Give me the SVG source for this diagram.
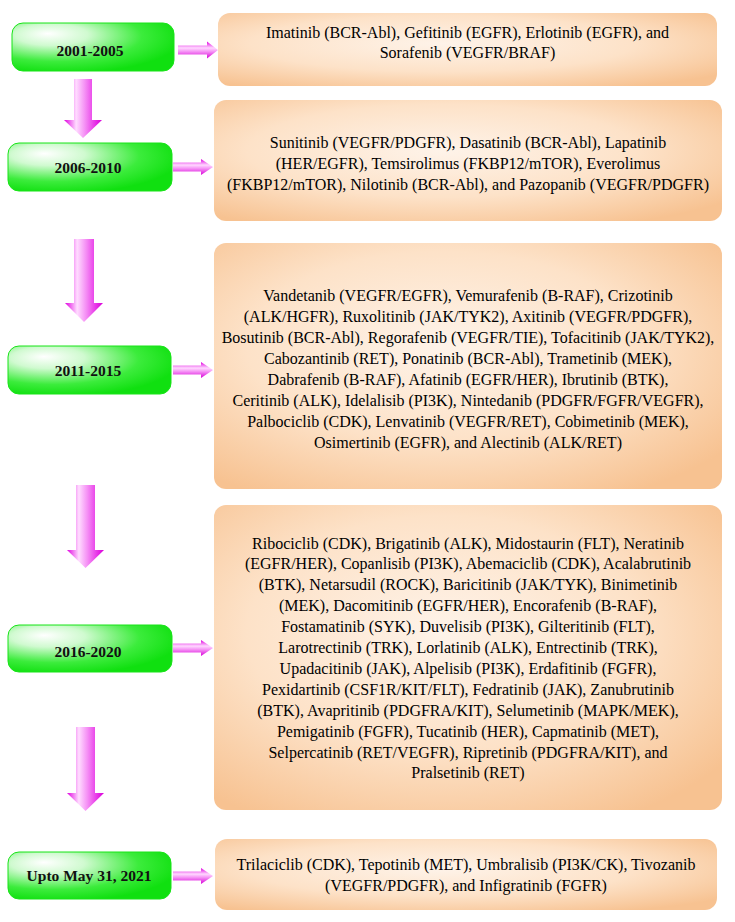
<svg xmlns="http://www.w3.org/2000/svg" width="735" height="922" viewBox="0 0 735 922">
<defs>
<radialGradient id="gGreen" cx="0.3" cy="0.3" r="0.75" fx="0.22" fy="0.22">
<stop offset="0" stop-color="#ffffff"/>
<stop offset="0.3" stop-color="#d0fad0"/>
<stop offset="0.7" stop-color="#3cec3c"/>
<stop offset="1" stop-color="#10e010"/>
</radialGradient>
<radialGradient id="gOrange" cx="0.45" cy="0.42" r="0.7">
<stop offset="0" stop-color="#fef3e9"/>
<stop offset="0.55" stop-color="#fde2c8"/>
<stop offset="1" stop-color="#f7c291"/>
</radialGradient>
<linearGradient id="gArrowH" x1="0" y1="0" x2="0" y2="1">
<stop offset="0" stop-color="#e000e0"/>
<stop offset="0.38" stop-color="#ffd8ff"/>
<stop offset="0.6" stop-color="#f590f5"/>
<stop offset="1" stop-color="#d800d8"/>
</linearGradient>
<linearGradient id="gArrowV" x1="0" y1="0" x2="1" y2="0">
<stop offset="0" stop-color="#e000e0"/>
<stop offset="0.32" stop-color="#ffdcff"/>
<stop offset="0.55" stop-color="#f590f5"/>
<stop offset="0.85" stop-color="#e528e5"/>
<stop offset="1" stop-color="#d800d8"/>
</linearGradient>
<style>
.green{fill:url(#gGreen);stroke:#18e418;stroke-width:1}
.orange{fill:url(#gOrange)}
.lbl{font-family:"Liberation Serif","DejaVu Serif",serif;font-weight:bold;font-size:15.5px;fill:#111;text-anchor:middle}
.txt{font-family:"Liberation Serif","DejaVu Serif",serif;font-size:16px;fill:#000;text-anchor:middle}
.ah{fill:url(#gArrowH)}
.av{fill:url(#gArrowV)}
</style>
</defs>

<g id="connectors">
<path class="av" d="M74,79 H92 V120 H102 L83,138 L64,120 H74 Z"/>
<path class="av" d="M74,239 H94 V303 H103 L84,322 L65,303 H74 Z"/>
<path class="av" d="M76,485 H95 V550 H104 L85.5,568 L67,550 H76 Z"/>
<path class="av" d="M76,727 H95 V793 H104 L85.5,811 L67,793 H76 Z"/>
<path class="ah" d="M178,45.5 H207 V41.5 L218,50 L207,58.5 V54.5 H178 Z"/>
<path class="ah" d="M173,162.5 H201 V159 L213,167 L201,175 V171.5 H173 Z"/>
<path class="ah" d="M173,365.5 H201 V362 L213,370 L201,378 V374.5 H173 Z"/>
<path class="ah" d="M173,643.5 H201 V640 L213,648 L201,656 V652.5 H173 Z"/>
<path class="ah" d="M173,871.5 H201 V868 L213,876 L201,884 V880.5 H173 Z"/>
</g>

<g id="n2001">
<rect class="green" x="12" y="23" width="162" height="48" rx="11"/>
<text class="lbl" x="90" y="56">2001-2005</text>
</g>
<g id="n2006">
<rect class="green" x="8" y="143" width="164" height="48" rx="11"/>
<text class="lbl" x="88" y="173">2006-2010</text>
</g>
<g id="n2011">
<rect class="green" x="8" y="346" width="163" height="48" rx="11"/>
<text class="lbl" x="88" y="376">2011-2015</text>
</g>
<g id="n2016">
<rect class="green" x="8" y="625" width="164" height="47" rx="11"/>
<text class="lbl" x="88" y="657">2016-2020</text>
</g>
<g id="n2021">
<rect class="green" x="8" y="852" width="163" height="47" rx="11"/>
<text class="lbl" x="89" y="881">Upto May 31, 2021</text>
</g>

<g id="d2001">
<rect class="orange" x="218" y="13" width="499" height="73" rx="12"/>
<text class="txt" x="467.5" y="37.5">Imatinib (BCR-Abl), Gefitinib (EGFR), Erlotinib (EGFR), and</text>
<text class="txt" x="467.5" y="58">Sorafenib (VEGFR/BRAF)</text>
</g>
<g id="d2006">
<rect class="orange" x="214" y="100" width="508" height="121" rx="12"/>
<text class="txt" x="468" y="147.5">Sunitinib (VEGFR/PDGFR), Dasatinib (BCR-Abl), Lapatinib</text>
<text class="txt" x="468" y="168.5">(HER/EGFR), Temsirolimus (FKBP12/mTOR), Everolimus</text>
<text class="txt" x="468" y="189.5">(FKBP12/mTOR), Nilotinib (BCR-Abl), and Pazopanib (VEGFR/PDGFR)</text>
</g>
<g id="d2011">
<rect class="orange" x="214" y="243" width="508" height="246" rx="12"/>
<text class="txt" x="468" y="300.5">Vandetanib (VEGFR/EGFR), Vemurafenib (B-RAF), Crizotinib</text>
<text class="txt" x="468" y="321.5">(ALK/HGFR), Ruxolitinib (JAK/TYK2), Axitinib (VEGFR/PDGFR),</text>
<text class="txt" x="468" y="342.5">Bosutinib (BCR-Abl), Regorafenib (VEGFR/TIE), Tofacitinib (JAK/TYK2),</text>
<text class="txt" x="468" y="363.5">Cabozantinib (RET), Ponatinib (BCR-Abl), Trametinib (MEK),</text>
<text class="txt" x="468" y="384.5">Dabrafenib (B-RAF), Afatinib (EGFR/HER), Ibrutinib (BTK),</text>
<text class="txt" x="468" y="405.5">Ceritinib (ALK), Idelalisib (PI3K), Nintedanib (PDGFR/FGFR/VEGFR),</text>
<text class="txt" x="468" y="426.5">Palbociclib (CDK), Lenvatinib (VEGFR/RET), Cobimetinib (MEK),</text>
<text class="txt" x="468" y="447.5">Osimertinib (EGFR), and Alectinib (ALK/RET)</text>
</g>
<g id="d2016">
<rect class="orange" x="214" y="505" width="508" height="305" rx="12"/>
<text class="txt" x="468" y="548.5">Ribociclib (CDK), Brigatinib (ALK), Midostaurin (FLT), Neratinib</text>
<text class="txt" x="468" y="569.4">(EGFR/HER), Copanlisib (PI3K), Abemaciclib (CDK), Acalabrutinib</text>
<text class="txt" x="468" y="590.3">(BTK), Netarsudil (ROCK), Baricitinib (JAK/TYK), Binimetinib</text>
<text class="txt" x="468" y="611.2">(MEK), Dacomitinib (EGFR/HER), Encorafenib (B-RAF),</text>
<text class="txt" x="468" y="632.1">Fostamatinib (SYK), Duvelisib (PI3K), Gilteritinib (FLT),</text>
<text class="txt" x="468" y="653">Larotrectinib (TRK), Lorlatinib (ALK), Entrectinib (TRK),</text>
<text class="txt" x="468" y="673.9">Upadacitinib (JAK), Alpelisib (PI3K), Erdafitinib (FGFR),</text>
<text class="txt" x="468" y="694.8">Pexidartinib (CSF1R/KIT/FLT), Fedratinib (JAK), Zanubrutinib</text>
<text class="txt" x="468" y="715.7">(BTK), Avapritinib (PDGFRA/KIT), Selumetinib (MAPK/MEK),</text>
<text class="txt" x="468" y="736.6">Pemigatinib (FGFR), Tucatinib (HER), Capmatinib (MET),</text>
<text class="txt" x="468" y="757.5">Selpercatinib (RET/VEGFR), Ripretinib (PDGFRA/KIT), and</text>
<text class="txt" x="468" y="778.4">Pralsetinib (RET)</text>
</g>
<g id="d2021">
<rect class="orange" x="215" y="839" width="502" height="71" rx="12"/>
<text class="txt" x="466" y="869.5">Trilaciclib (CDK), Tepotinib (MET), Umbralisib (PI3K/CK), Tivozanib</text>
<text class="txt" x="466" y="890.5">(VEGFR/PDGFR), and Infigratinib (FGFR)</text>
</g>
</svg>
